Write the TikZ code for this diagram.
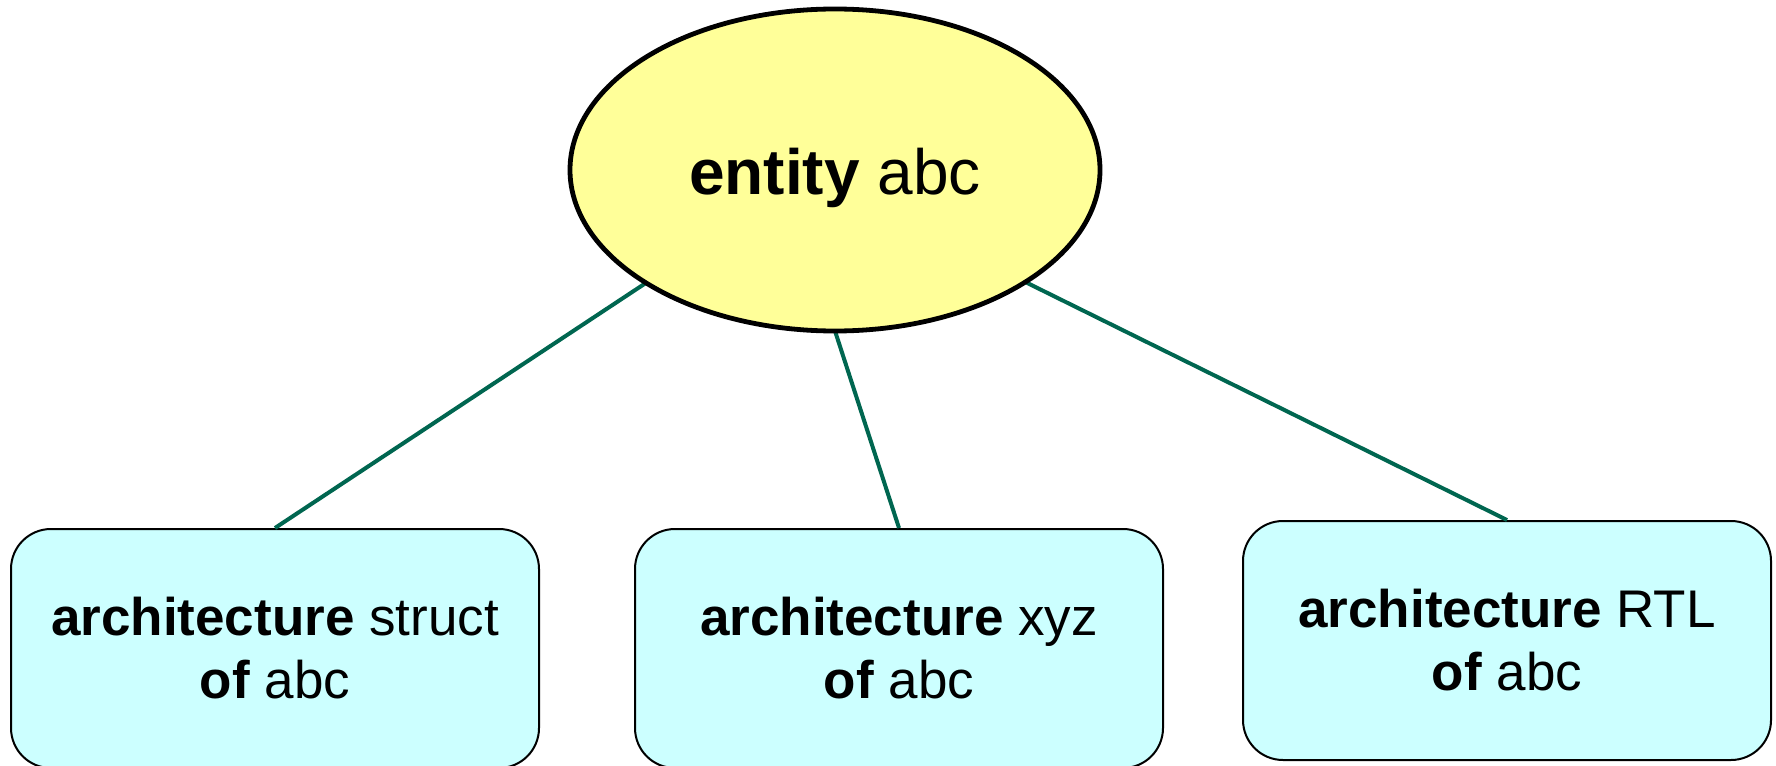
\documentclass[tikz,border=0pt]{standalone}
\usepackage{fontspec}
\setmainfont{Liberation Sans}
\usetikzlibrary{shapes.geometric}
\definecolor{linkgreen}{RGB}{0,102,80}
\definecolor{entfill}{RGB}{255,255,153}
\definecolor{archfill}{RGB}{204,255,255}
\tikzset{
  entnode/.style={ellipse, draw=black, line width=2.4pt, fill=entfill,
    minimum width=265pt, minimum height=161pt, inner sep=0pt,
    font=\fontsize{32}{38}\selectfont},
  archnode/.style={rectangle, rounded corners=20pt, draw=black, line width=1pt,
    fill=archfill, minimum width=264pt, minimum height=119.5pt, inner sep=0pt,
    align=center, font=\fontsize{26.5}{31.5}\selectfont},
  link/.style={draw=linkgreen, line width=2pt}
}
\begin{document}
\begin{tikzpicture}[x=0.5pt,y=-0.5pt]
\useasboundingbox (0,0) rectangle (1776,765);
\node[archnode] (B1) at (275,648.5) {\textbf{architecture} struct\\\textbf{of} abc};
\node[archnode] (B2) at (899,648.5) {\textbf{architecture} xyz\\\textbf{of} abc};
\node[archnode] (B3) at (1507,640.5) {\textbf{architecture} RTL\\\textbf{of} abc};
\coordinate (C1) at (835,158);
\coordinate (C2) at (835,331);
\coordinate (C3) at (835,188);
\draw[link] (C1) -- (B1.north);
\draw[link] (C2) -- (B2.north);
\draw[link] (C3) -- (B3.north);
\node[entnode] (E) at (835,170) {\raisebox{-4pt}[\height][\depth]{\textbf{entity} abc}};
\end{tikzpicture}
\end{document}
